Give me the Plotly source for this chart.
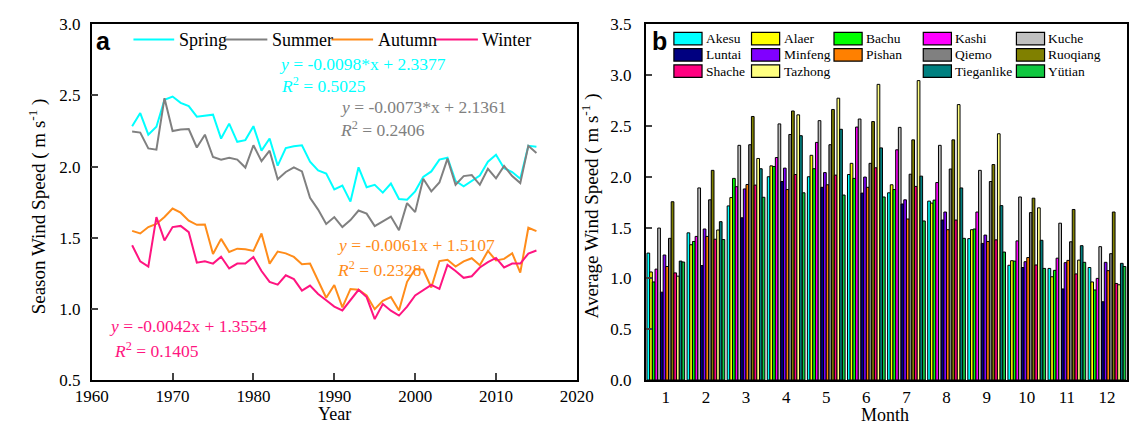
import plotly.graph_objects as go

years = list(range(1965, 2016))
spring = [2.284, 2.376, 2.224, 2.28, 2.47, 2.492, 2.448, 2.425, 2.351, 2.358, 2.365, 2.197, 2.302, 2.174, 2.186,
          2.284, 2.112, 2.197, 2.007, 2.13, 2.143, 2.15, 2.034, 1.973, 1.951,
          1.839, 1.866, 1.754, 1.995, 1.855, 1.872, 1.817, 1.881, 1.772, 1.767, 1.826, 1.928, 1.966, 2.049, 2.062,
          1.899, 1.861, 1.899, 1.937, 2.034, 2.083, 1.989, 1.962, 1.915, 2.146, 2.139]
summer = [2.246, 2.239, 2.128, 2.119, 2.481, 2.25, 2.26, 2.264, 2.134, 2.224, 2.067, 2.049, 2.062, 2.049, 1.993,
          2.15, 2.038, 2.112, 1.911, 1.962, 1.995, 1.966, 1.78, 1.698, 1.597,
          1.645, 1.575, 1.624, 1.691, 1.669, 1.582, 1.615, 1.649, 1.553, 1.743, 1.68, 1.915, 1.826, 1.888, 2.056,
          1.872, 1.933, 1.94, 1.872, 1.984, 1.917, 2.005, 1.933, 1.884, 2.146, 2.096]
autumn = [1.548, 1.53, 1.575, 1.597, 1.646, 1.705, 1.676, 1.62, 1.591, 1.593, 1.385, 1.492, 1.40, 1.423, 1.419,
          1.407, 1.53, 1.318, 1.403, 1.39, 1.365, 1.314, 1.318, 1.195, 1.078,
          1.168, 1.010, 1.14, 1.134, 1.094, 0.998, 1.056, 1.083, 0.989, 1.19, 1.28, 1.275, 1.15, 1.336, 1.345,
          1.297, 1.334, 1.356, 1.307, 1.407, 1.34, 1.351, 1.391, 1.255, 1.57, 1.546]
winter = [1.447, 1.334, 1.297, 1.645, 1.481, 1.575, 1.583, 1.539, 1.325, 1.334, 1.318, 1.367, 1.284, 1.318, 1.318,
          1.365, 1.266, 1.19, 1.17, 1.236, 1.209, 1.128, 1.164, 1.105, 1.06,
          1.016, 0.989, 1.065, 1.134, 1.083, 0.928, 1.034, 0.987, 0.953, 1.016, 1.094, 1.13, 1.168, 1.14, 1.309,
          1.266, 1.218, 1.229, 1.291, 1.329, 1.358, 1.291, 1.318, 1.318, 1.389, 1.41]

season_names = ["Spring", "Summer", "Autumn", "Winter"]
season_colors = ["#00FFFF", "#808080", "#FF8C1A", "#FF1480"]
season_values = [spring, summer, autumn, winter]

eq_texts = [("<i>y</i> = -0.0098*x + 2.3377", "<i>R</i><sup>2</sup> = 0.5025"),
            ("<i>y</i> = -0.0073*x + 2.1361", "<i>R</i><sup>2</sup> = 0.2406"),
            ("<i>y</i> = -0.0061x + 1.5107", "<i>R</i><sup>2</sup> = 0.2328"),
            ("<i>y</i> = -0.0042x + 1.3554", "<i>R</i><sup>2</sup> = 0.1405")]

months = list(range(1, 13))
stations = ["Akesu", "Alaer", "Bachu", "Kashi", "Kuche", "Luntai", "Minfeng", "Pishan", "Qiemo",
            "Ruoqiang", "Shache", "Tazhong", "Tieganlike", "Yütian"]
station_colors = ["#00FFFF", "#FFFF00", "#00FF00", "#FF00FF", "#C0C0C0", "#000080", "#8000FF",
                  "#FF8000", "#808080", "#808000", "#FF0080", "#FFFF80", "#008080", "#10C840"]
# rows = months, columns = stations
monthly = [
    [1.249, 1.063, 0.965, 1.091, 1.495, 0.864, 1.23, 1.117, 1.394, 1.754, 1.054, 1.022, 1.17, 1.161],
    [1.448, 1.331, 1.363, 1.413, 1.89, 1.126, 1.486, 1.413, 1.773, 2.063, 1.385, 1.476, 1.558, 1.382],
    [1.713, 1.795, 1.984, 1.902, 2.309, 1.596, 1.88, 1.924, 2.315, 2.593, 1.918, 2.18, 2.079, 1.798],
    [2.0, 2.107, 2.101, 2.189, 2.52, 1.953, 2.085, 1.874, 2.416, 2.647, 2.022, 2.609, 2.404, 1.842],
    [2.0, 2.211, 2.079, 2.338, 2.552, 1.896, 2.041, 1.921, 2.315, 2.662, 2.016, 2.773, 2.467, 1.82],
    [2.022, 2.132, 1.984, 2.489, 2.568, 1.839, 1.997, 1.896, 2.132, 2.543, 2.088, 2.909, 2.284, 1.801],
    [1.842, 1.921, 1.874, 2.265, 2.486, 1.732, 1.773, 1.584, 2.025, 2.363, 1.905, 2.946, 2.006, 1.565],
    [1.76, 1.741, 1.77, 1.943, 2.309, 1.574, 1.653, 1.479, 2.076, 2.363, 1.574, 2.71, 1.89, 1.394],
    [1.391, 1.479, 1.486, 1.653, 2.063, 1.344, 1.426, 1.363, 1.953, 2.12, 1.379, 2.423, 1.716, 1.259],
    [1.129, 1.174, 1.17, 1.369, 1.801, 1.107, 1.164, 1.205, 1.647, 1.789, 1.132, 1.694, 1.375, 1.098],
    [1.098, 1.016, 1.079, 1.199, 1.543, 0.896, 1.155, 1.177, 1.36, 1.678, 1.044, 1.18, 1.322, 1.158],
    [1.107, 0.965, 0.886, 1.0, 1.312, 0.77, 1.158, 1.076, 1.243, 1.653, 0.95, 0.937, 1.148, 1.117],
]

W, H = 1145, 434
FONT = "Liberation Serif"


def px(x):
    return x / W


def py(y):
    return 1 - y / H


fig = go.Figure()

for name, col, vals in zip(season_names, season_colors, season_values):
    fig.add_trace(go.Scatter(x=years, y=vals, mode="lines", name=name,
                             line=dict(color=col, width=2), xaxis="x", yaxis="y",
                             showlegend=False))

for i, (name, col) in enumerate(zip(stations, station_colors)):
    fig.add_trace(go.Bar(x=months, y=[row[i] for row in monthly], name=name,
                         marker=dict(color=col, line=dict(color="black", width=1)),
                         xaxis="x2", yaxis="y2", showlegend=False))

axis_common = dict(showline=True, linecolor="black", linewidth=1.5, mirror=True,
                   showgrid=False, zeroline=False,
                   tickfont=dict(family=FONT, size=17, color="black"))

fig.update_layout(
    width=W, height=H, margin=dict(l=0, r=0, t=0, b=0),
    paper_bgcolor="white", plot_bgcolor="white",
    barmode="group", bargap=0.06, bargroupgap=0,
    font=dict(family=FONT, size=17, color="black"),
    xaxis=dict(domain=[px(77), px(577)], range=[1960, 2020], dtick=10,
               ticks="inside", ticklen=7, tickwidth=1.5, anchor="y", ticklabelstandoff=0,
               **axis_common),
    yaxis=dict(domain=[py(388), py(16)], range=[0.5, 3.0], dtick=0.5, tickformat=".1f",
               ticks="inside", ticklen=7, tickwidth=1.5, anchor="x", ticklabelstandoff=6,
               **axis_common),
    xaxis2=dict(domain=[px(648), px(1144)], range=[0.5, 12.5], tickmode="array",
                tickvals=months, ticks="", anchor="y2", ticklabelstandoff=1, **axis_common),
    yaxis2=dict(domain=[py(388), py(16)], range=[0, 3.5], dtick=0.5, tickformat=".1f",
                ticks="inside", ticklen=6, tickwidth=1.5, anchor="x2", ticklabelstandoff=9,
                **axis_common),
)

ann = []
shapes = []

# panel labels
ann.append(dict(x=px(79), y=py(33), xref="paper", yref="paper", text="<b>a</b>", showarrow=False,
                xanchor="left", yanchor="middle", font=dict(family="Liberation Sans", size=25, color="black")))
ann.append(dict(x=px(652), y=py(33), xref="paper", yref="paper", text="<b>b</b>", showarrow=False,
                xanchor="left", yanchor="middle", font=dict(family="Liberation Sans", size=25, color="black")))

# left legend
leg_line_x = [(120, 162), (215, 258), (324, 367), (431, 475)]
leg_text_x = [165, 261, 370, 477]
for (x0, x1), tx, name, col in zip(leg_line_x, leg_text_x, season_names, season_colors):
    shapes.append(dict(type="line", xref="paper", yref="paper", x0=px(x0), x1=px(x1), y0=py(32), y1=py(32),
                       line=dict(color=col, width=2)))
    ann.append(dict(x=px(tx), y=py(32), xref="paper", yref="paper", text=name, showarrow=False,
                    xanchor="left", yanchor="middle", font=dict(family=FONT, size=18, color="black")))

# regression text
eq_pos = [((268, 57), (270, 80)), ((331, 103), (331, 126)), ((328, 247), (328, 272)), ((93, 332), (98, 357))]
for (eq, r2), ((ex, ey), (rx, ry)), col in zip(eq_texts, eq_pos, season_colors):
    ann.append(dict(x=px(ex), y=py(ey), xref="paper", yref="paper", text=eq, showarrow=False,
                    xanchor="left", yanchor="middle", font=dict(family=FONT, size=17.5, color=col)))
    ann.append(dict(x=px(rx), y=py(ry), xref="paper", yref="paper", text=r2, showarrow=False,
                    xanchor="left", yanchor="middle", font=dict(family=FONT, size=17.5, color=col)))

# right legend (3 rows x 5 columns, empty slot row 3 col 3)
slots = [(0, 0), (0, 1), (0, 2), (0, 3), (0, 4),
         (1, 0), (1, 1), (1, 2), (1, 3), (1, 4),
         (2, 0), (2, 1), (2, 3), (2, 4)]
col_sw = [677, 757, 842, 934, 1030]
row_y = [31, 48, 65]
for (r, c), name, col in zip(slots, stations, station_colors):
    x0 = col_sw[c]
    yc = row_y[r]
    shapes.append(dict(type="rect", xref="paper", yref="paper", x0=px(x0), x1=px(x0 + 29),
                       y0=py(yc + 6.5), y1=py(yc - 6.5), fillcolor=col,
                       line=dict(color="black", width=1.2)))
    ann.append(dict(x=px(x0 + 31), y=py(yc), xref="paper", yref="paper", text=name, showarrow=False,
                    xanchor="left", yanchor="middle", font=dict(family=FONT, size=13.5, color="black")))

# axis titles
ann.append(dict(x=px(22), y=py(206), xref="paper", yref="paper", text="Season Wind Speed ( m s<sup>-1</sup> )",
                showarrow=False, textangle=-90, xanchor="center", yanchor="middle",
                font=dict(family=FONT, size=19, color="black")))
ann.append(dict(x=px(592), y=py(206), xref="paper", yref="paper", text="Average Wind Speed ( m s<sup>-1</sup> )",
                showarrow=False, textangle=-90, xanchor="center", yanchor="middle",
                font=dict(family=FONT, size=19, color="black")))
ann.append(dict(x=px(327), y=py(424), xref="paper", yref="paper", text="Year", showarrow=False,
                xanchor="center", yanchor="middle", font=dict(family=FONT, size=18, color="black")))
ann.append(dict(x=px(895), y=py(425), xref="paper", yref="paper", text="Month", showarrow=False,
                xanchor="center", yanchor="middle", font=dict(family=FONT, size=18, color="black")))

fig.update_layout(annotations=ann, shapes=shapes)
fig.write_html("out.html")
